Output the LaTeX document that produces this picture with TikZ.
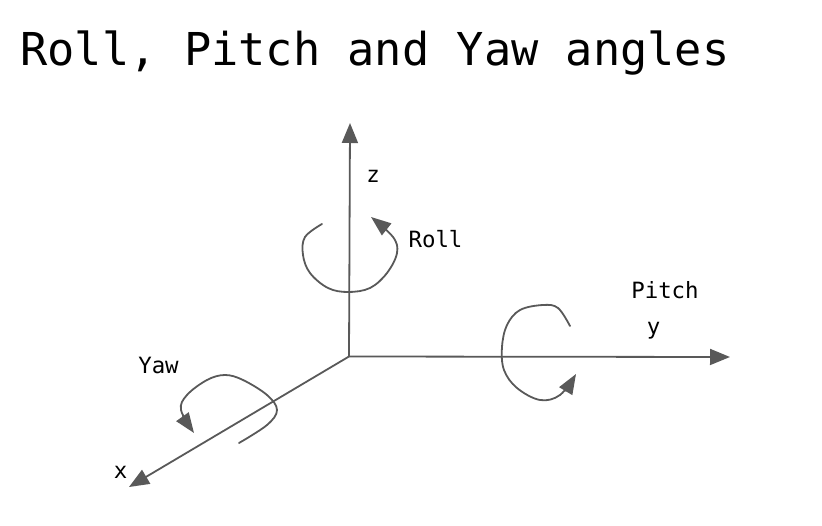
\documentclass[tikz,border=0pt]{standalone}
\usepackage{fontspec}
\setmainfont{DejaVu Sans Mono}
\usetikzlibrary{arrows.meta}
\usetikzlibrary{positioning}

\definecolor{inkgray}{HTML}{595959}

\begin{document}
\begin{tikzpicture}[
    x = 1pt, y = -1pt,
every node/.style = {inner sep=0pt},
     axisline/.style = {draw=inkgray,line width=1.8pt,-{Triangle[length=20pt,width=16pt]}},
     turnline/.style = {draw=inkgray,line width=1.8pt,line cap=round,-{Triangle[length=20pt,width=15pt]}},
     lbl/.style = {font=\fontsize{22.4}{26}\selectfont,text=black}]
\useasboundingbox (0,0) rectangle (822,526);

\node[font=\fontsize{45.3}{54}\selectfont] (title) at (375,53) {Roll, Pitch and Yaw angles};

\coordinate                  (o)   at (349,356.5);
\coordinate                  (zt)  at (350,123);
\coordinate                  (yt)  at (730,357);
\coordinate                  (xt)  at (129,487);

\path[axisline] (o) -- (zt);
\path[axisline] (o) -- (yt);
\path[axisline] (o) -- (xt);

\node[lbl] (z)     at (373,176.5)  {z};
\node[lbl] (y)     at (653.5,331)  {y};
\node[lbl] (x)     at (120.5,472)  {x};
\node[lbl] (roll)  at (435.5,239.5) {Roll};
\node[lbl] (pitch) at (665,290.5)  {Pitch};
\node[lbl] (yaw)   at (158.5,365.5)  {Yaw};

% roll
\path[turnline] plot[smooth,tension=0.6] coordinates {(322,224) (305,237) (303,255) (310,273)
    (328,288) (348,292) (370,288) (387,273) (397,253) (393,237) (371,217)};

% pitch
\path[turnline] plot[smooth,tension=0.6] coordinates {(570,326) (558,308) (543,305) (520,310)
    (507,325) (502,347) (504,370) (517,388) (540,400) (560,395) (576,374)};

% yaw
\path[turnline] plot[smooth,tension=0.6] coordinates {(239,443) (267,425) (277,410) (267,395)
    (243,380) (225,375) (207,380) (187,395) (181,410) (194,433)};
\end{tikzpicture}
\end{document}
